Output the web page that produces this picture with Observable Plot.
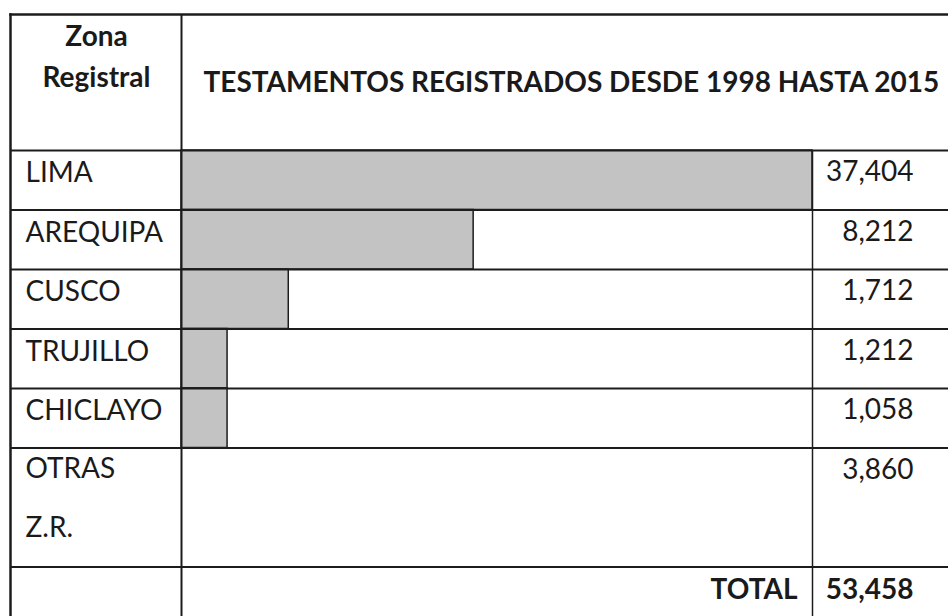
<!DOCTYPE html>
<html><head><meta charset="utf-8">
<script src="https://cdn.jsdelivr.net/npm/d3@7"></script>
<script src="https://cdn.jsdelivr.net/npm/@observablehq/plot@0.6"></script>
<style>body{margin:0;background:#fff} svg{display:block}</style>
</head><body><div id="chart"></div>
<script>
const zonas = ["LIMA", "AREQUIPA", "CUSCO", "TRUJILLO", "CHICLAYO", "OTRAS Z.R."];
const testamentos = [37404, 8212, 1712, 1212, 1058, 3860];
// bar lengths as drawn in the picture (% of the bar column width)
const barras = [100, 46.3, 17.0, 7.3, 7.3, 0];
const total = 53458;
const encabezadoZona = "Zona Registral";
const titulo = "TESTAMENTOS REGISTRADOS DESDE 1998 HASTA 2015";
const etiquetaTotal = "TOTAL";

const fmt = d3.format(",");
const HEADER = -2.286;

let start = 0;
const rows = zonas.map((z, i) => {
  const lines = z.split(" ");
  const span = lines.length;
  const r = {zona: lines.join("\n"), valor: testamentos[i], barra: barras[i], y1: start, y2: start + span, span};
  start += span;
  return r;
});
const totalRow = {y1: start, y2: start + 1, valor: total, label: etiquetaTotal};
const bottom = start + 1.2;
const boundaries = [0, ...rows.map(r => r.y2)];

const LINE = "#1c1c1c";
const FS = 28;
const INK = "#1a1a1a";

const chart = Plot.plot({
  width: 948,
  height: 616,
  marginLeft: 10,
  marginTop: 14,
  marginRight: 0,
  marginBottom: 0,
  x: {domain: [0, 100], range: [181, 812], axis: null},
  y: {domain: [0, 7], range: [150, 566.5], axis: null},
  style: {fontFamily: "Lato, sans-serif", background: "white", color: INK},
  marks: [
    Plot.rect(rows.filter(d => d.barra > 0), {x1: 0, x2: "barra", y1: "y1", y2: "y2", fill: "#c3c3c3", stroke: LINE, strokeWidth: 1.5}),
    Plot.ruleY(boundaries, {stroke: LINE, strokeWidth: 2}),
    Plot.frame({anchor: "top", stroke: LINE, strokeWidth: 2.5}),
    Plot.frame({anchor: "left", stroke: LINE, strokeWidth: 2.5}),
    Plot.ruleX([0], {y1: HEADER, y2: bottom, stroke: LINE, strokeWidth: 2}),
    Plot.ruleX([100], {y1: 0, y2: bottom, stroke: LINE, strokeWidth: 1.5}),
    Plot.text(rows, {text: "zona", y: d => (d.y1 + d.y2) / 2 - (d.span > 1 ? 0.033 : 0), dy: -17, frameAnchor: "left", dx: 15, textAnchor: "start", fontSize: FS, lineHeight: 59.5 / FS, fill: INK}),
    Plot.text(rows, {text: d => fmt(d.valor), y: d => d.y1 + 0.5, dy: -8, frameAnchor: "right", dx: -35, textAnchor: "end", fontSize: FS, fill: INK}),
    Plot.text([totalRow], {text: "label", x: 100, dx: -15, y: d => d.y1 + 0.38, textAnchor: "end", fontSize: FS, fontWeight: "bold", fill: INK}),
    Plot.text([totalRow], {text: d => fmt(d.valor), y: d => d.y1 + 0.38, frameAnchor: "right", dx: -35, textAnchor: "end", fontSize: FS, fontWeight: "bold", fill: INK}),
    Plot.text([encabezadoZona.replace(" ", "\n")], {text: d => d, y: -1.63, frameAnchor: "left", dx: 86, textAnchor: "middle", fontSize: FS, fontWeight: "bold", lineHeight: 41 / FS, fill: INK}),
    Plot.text([titulo], {text: d => d, x: 0, dx: 22, y: -1.14, textAnchor: "start", fontSize: FS, fontWeight: "bold", fill: INK})
  ]
});
document.getElementById("chart").append(chart);
</script>
</body></html>
